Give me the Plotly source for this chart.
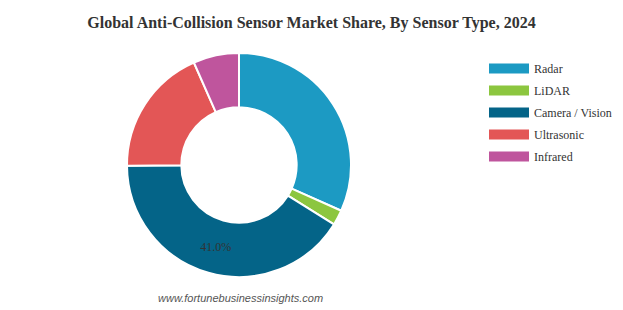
import plotly.graph_objects as go

categories = ["Radar", "LiDAR", "Camera / Vision", "Ultrasonic", "Infrared"]
shares = [31.7, 2.2, 41.0, 18.5, 6.6]
colors = ["#1c9ac3", "#8cc63f", "#046488", "#e35656", "#bf559d"]
shown_labels = ["", "", "41.0%", "", ""]

W, H = 623, 310
fig = go.Figure()

fig.add_trace(go.Pie(
    labels=categories,
    values=shares,
    text=shown_labels,
    textinfo="text",
    textposition="inside",
    insidetextorientation="horizontal",
    textfont=dict(family="Liberation Serif", size=12, color="#333333"),
    marker=dict(colors=colors, line=dict(color="white", width=2)),
    hole=0.515,
    sort=False,
    direction="clockwise",
    rotation=0,
    showlegend=False,
    domain=dict(x=[127 / W, 351 / W], y=[(H - 277) / H, (H - 53) / H]),
))

for i, (name, c) in enumerate(zip(categories, colors)):
    fig.add_trace(go.Scatter(
        x=[None], y=[None], mode="lines", name=name,
        line=dict(color=c, width=12), legendgroup=f"g{i}",
        showlegend=True, hoverinfo="skip",
    ))

fig.update_layout(
    width=W, height=H,
    margin=dict(l=0, r=0, t=0, b=0),
    paper_bgcolor="white", plot_bgcolor="white",
    xaxis=dict(visible=False), yaxis=dict(visible=False),
    title=dict(
        text="<b>Global Anti-Collision Sensor Market Share, By Sensor Type, 2024</b>",
        x=0.5, xanchor="center", y=1 - 22 / H, yanchor="middle",
        font=dict(family="Liberation Serif", size=16, color="#333333"),
    ),
    legend=dict(
        x=484 / W, xanchor="left", y=1 - 54 / H, yanchor="top",
        font=dict(family="Liberation Serif", size=12, color="#333333"),
        tracegroupgap=3, bgcolor="rgba(0,0,0,0)", itemclick=False,
        itemwidth=40,
    ),
    annotations=[dict(
        text="<i>www.fortunebusinessinsights.com</i>",
        x=240 / W, y=1 - 298 / H, xref="paper", yref="paper",
        xanchor="center", yanchor="middle", showarrow=False,
        font=dict(family="Liberation Sans", size=11, color="#555555"),
    )],
)

fig.write_html("out.html")
